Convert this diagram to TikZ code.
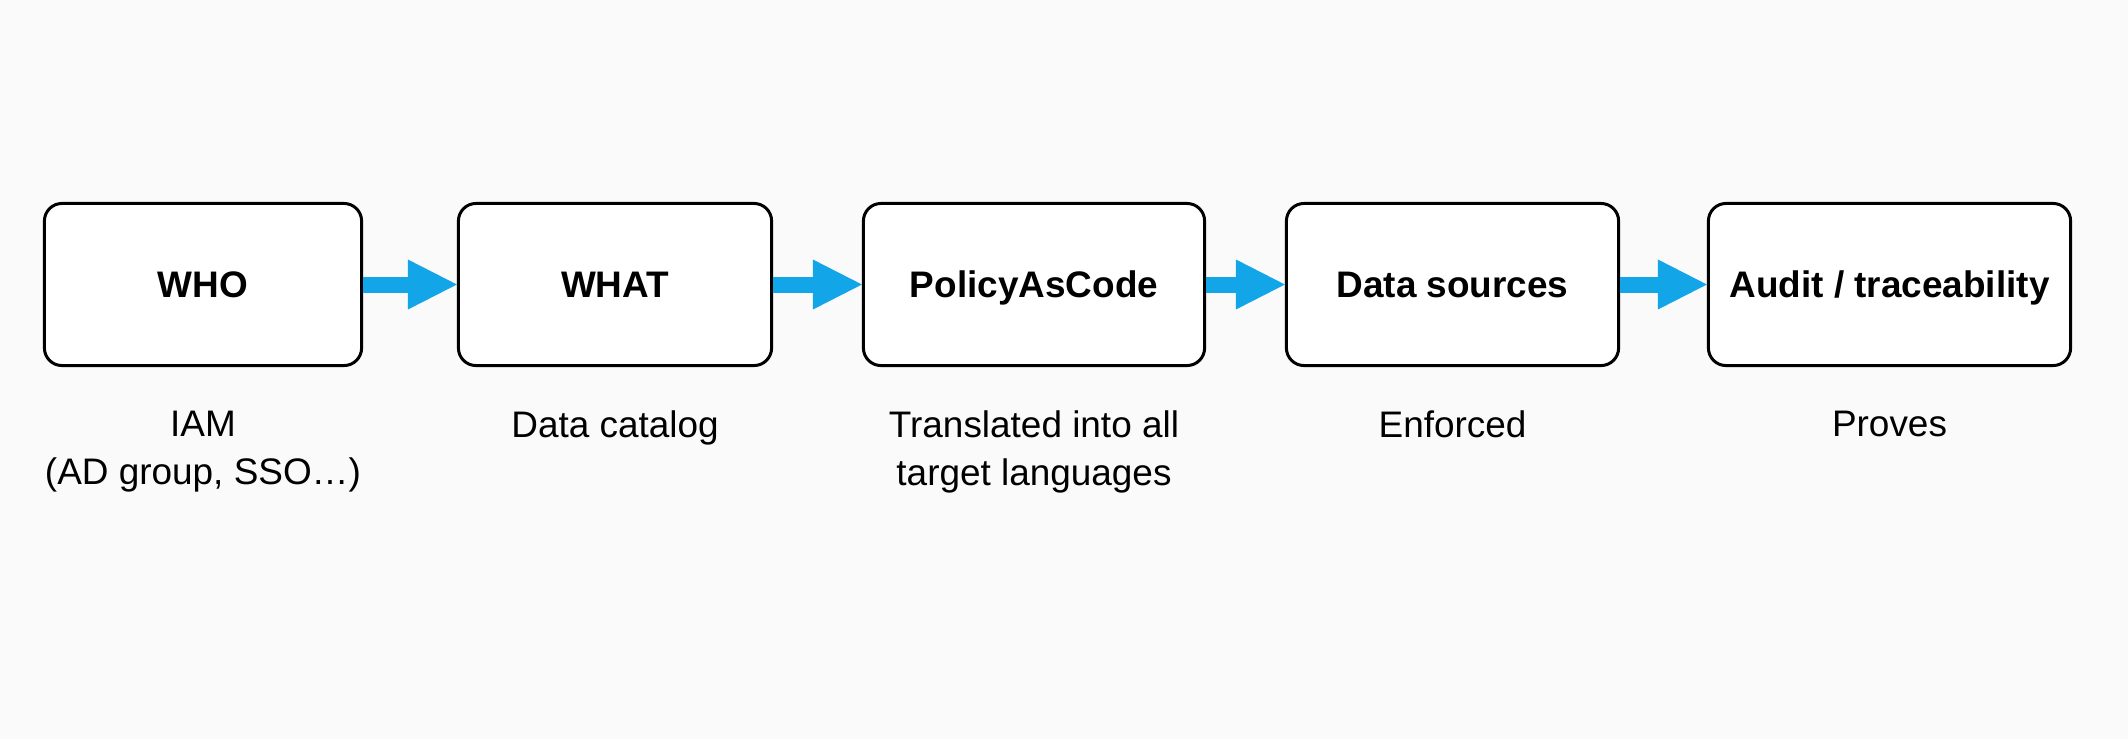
\documentclass[tikz,border=0pt]{standalone}
\usepackage{fontspec}
\setmainfont{Liberation Sans}
\usepackage{xcolor}
\usetikzlibrary{positioning,arrows.meta}
\definecolor{flowblue}{RGB}{18,166,232}
\definecolor{pagegray}{RGB}{250,250,250}

\begin{document}
\begin{tikzpicture}[x=0.01cm,y=-0.01cm]
\tikzset{
    stage/.style={rectangle, draw=black, line width=0.3mm, rounded corners=5pt,
        fill=white, minimum height=1.62cm, text height=7.5pt, text depth=0pt,
        font=\fontsize{10.5}{13.7}\selectfont\bfseries},
    note/.style={anchor=north, inner sep=0pt, align=center,
        font=\fontsize{10.5}{13.7}\selectfont},
    flow/.style={flowblue, line width=1.6mm,
        -{Triangle[length=4.9mm,width=5mm,line width=0pt]}}
}
\fill[pagegray] (0,0) rectangle (2128,739);

\node[stage, minimum width=3.17cm] (who) at (203,284.5) {WHO};
\node[stage, minimum width=3.13cm] (what) at (615,284.5) {WHAT};
\node[stage, minimum width=3.41cm] (pac) at (1034,284.5) {PolicyAsCode};
\node[stage, minimum width=3.32cm] (src) at (1452.5,284.5) {Data sources};
\node[stage, minimum width=3.62cm] (audit) at (1889.5,284.5) {Audit / traceability};

\node[note] (iam) at (203,410) {IAM\\(AD group, SSO…)};
\node[note] (cat) at (615,410) {Data catalog};
\node[note] (trans) at (1034,410) {Translated into all\\target languages};
\node[note] (enf) at (1452.5,410) {Enforced};
\node[note] (prov) at (1889.5,410) {Proves};

\draw [flow] (who) -- (what);
\draw [flow] (what) -- (pac);
\draw [flow] (pac) -- (src);
\draw [flow] (src) -- (audit);
\end{tikzpicture}
\end{document}
